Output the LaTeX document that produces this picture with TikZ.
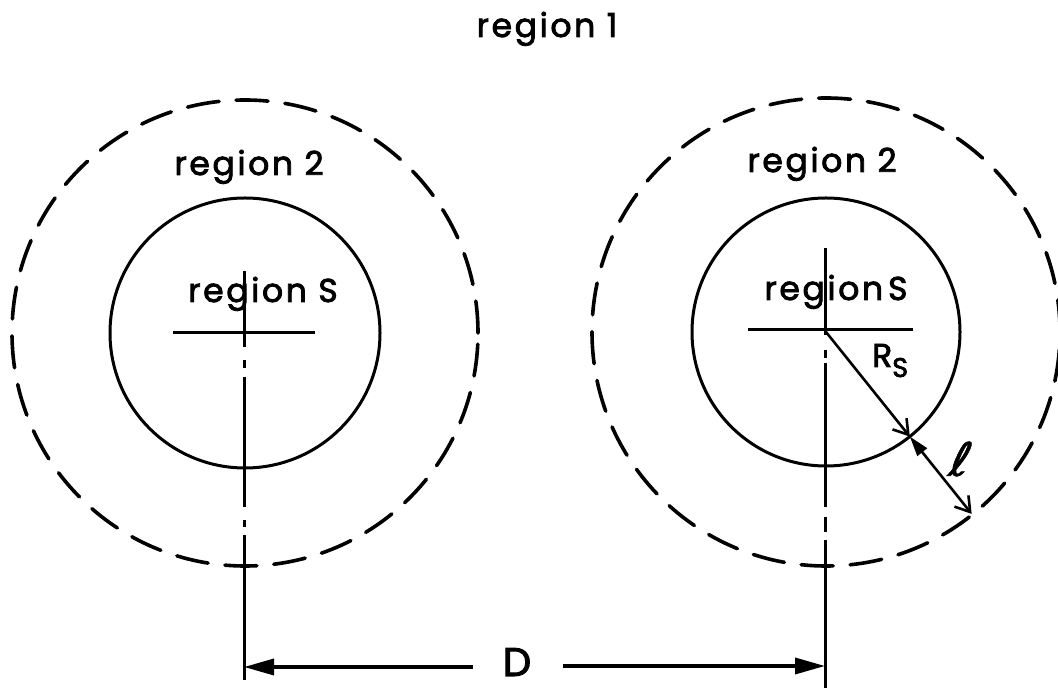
\documentclass[tikz,border=0pt]{standalone}
\usepackage{fontspec}
\setmainfont{Poppins}[FakeBold=2.5, LetterSpace=8]
\newfontfamily\ellfont{DejaVu Sans}[FakeSlant=0.25, FakeBold=1.5]
\usetikzlibrary{arrows.meta,calc}
\begin{document}
\begin{tikzpicture}[x=1pt,y=1pt,
  lbl/.style={font=\fontsize{33}{33}\selectfont, inner sep=0pt, anchor=base},
  solidc/.style={line width=3pt},
  dashc/.style={line width=3.6pt, dash pattern=on 32pt off 17pt, line cap=round},
  cline/.style={line width=3pt},
  dimarrow/.style={line width=3.6pt, -{Triangle[length=30pt,width=16pt]}},
  myvee/.tip={Straight Barb[length=14pt,width=18pt]},
  ]
\useasboundingbox (0,0) rectangle (1058,688);
% centres
\coordinate (cL) at (245,355);
\coordinate (cR) at (826,356);
% circles
\draw[solidc] (cL) circle[radius=135];
\draw[dashc] (cL) circle[radius=233];
\draw[solidc] (cR) circle[radius=134];
\draw[dashc] (cR) circle[radius=234];
% horizontal lines through centres
\draw[cline] (173,355) -- (315,355);
\draw[cline] (748,358) -- (913,358);
% centre lines (long dash - dot - long dash)
\foreach \a/\b in {417/341, 328/320, 311/181, 168/161, 153/8}
  \draw[cline] (244,\a) -- (244,\b);
\foreach \a/\b in {440/353, 338/330, 325/181, 171/156, 148/0}
  \draw[cline] (825,\a) -- (825,\b);
% radius R_S and thickness l
\coordinate (pS) at ($(cR)+(-51.3:134)$);
\coordinate (p2) at ($(cR)+(-51.3:233)$);
\draw[line width=2.6pt, -{myvee}] (cR) -- (pS);
\draw[line width=2.6pt, {Triangle[length=20pt,width=12pt]}-{myvee}] (pS) -- (p2);
% labels
\node[lbl] (r1) at (547,651) {region 1};
\node[lbl] (r2L) at (249,513) {region 2};
\node[lbl] (r2R) at (822,516) {region 2};
\node[lbl] (rSL) at (263,386) {region S};
\node[lbl] (rSR) at (836,388) {region\hspace{5pt}S};
\node[lbl, anchor=base west] (Rs) at (872,321) {R\raisebox{-10pt}{\fontsize{27}{27}\selectfont S}};
\node[inner sep=0pt] (ell) at (957,229) {\ellfont\fontsize{46}{46}\selectfont ℓ};
% distance D
\node[lbl, font=\fontsize{40}{40}\selectfont] (D) at (517,12) {D};
\coordinate (Dl) at (473,21);
\coordinate (Dr) at (563,22);
\coordinate (vL) at (244,21);
\coordinate (vR) at (825,22);
\draw[dimarrow] (Dl) -- (vL);
\draw[dimarrow] (Dr) -- (vR);
\end{tikzpicture}
\end{document}
